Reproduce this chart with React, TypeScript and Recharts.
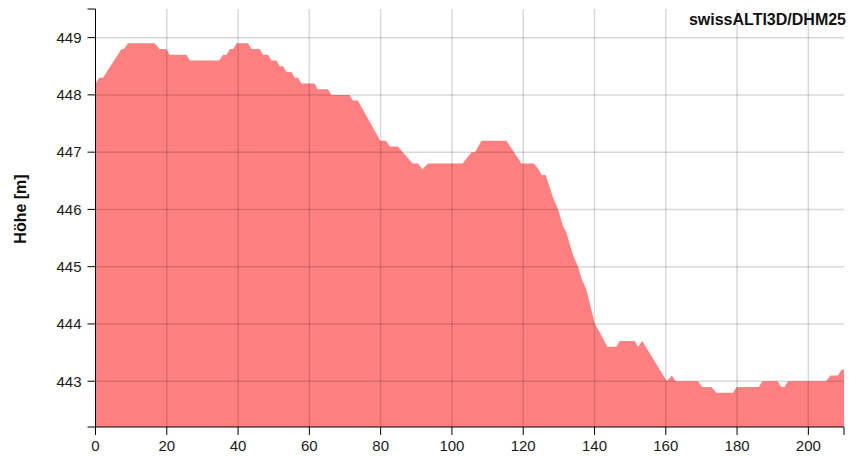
import { AreaChart, Area, XAxis, YAxis, ReferenceLine } from 'recharts'

// profile points (distance in m, height in m)
const dist = [
  0, 1.0, 2.1, 7.3, 8.0, 9.1, 16.6, 18.0, 19.9, 20.8, 25.5, 26.5, 34.7, 35.8, 36.8, 37.7, 38.6, 39.6,
  42.8, 43.8, 46.1, 47.0, 48.4, 49.4, 50.8, 51.7, 52.6, 53.6, 55.0, 55.9, 56.8, 57.8, 61.5, 62.3,
  65.2, 66.2, 71.3, 72.2, 73.6, 79.9, 81.5, 82.6, 84.8, 89.0, 90.5, 91.7, 93.3, 103.0, 105.5, 106.5,
  108.3, 115.3, 119.5, 123.0, 124.3, 125.2, 126.3, 128.4, 129.8, 131.2, 132.1, 133.0, 134.0, 135.4,
  136.3, 137.7, 139.1, 140.1, 141.5, 143.6, 146.1, 147.1, 151.3, 152.2, 153.4, 160.3, 161.7, 162.8,
  169.0, 170.3, 172.8, 174.2, 178.8, 179.9, 186.1, 187.1, 191.4, 192.4, 193.3, 194.3, 205.0, 206.2,
  208.3, 209.3, 210,
]
const elev = [
  448.2, 448.3, 448.3, 448.8, 448.8, 448.9, 448.9, 448.8, 448.8, 448.7, 448.7, 448.6, 448.6, 448.7, 448.7, 448.8, 448.8, 448.9,
  448.9, 448.8, 448.8, 448.7, 448.7, 448.6, 448.6, 448.5, 448.5, 448.4, 448.4, 448.3, 448.3, 448.2, 448.2, 448.1,
  448.1, 448.0, 448.0, 447.9, 447.9, 447.2, 447.2, 447.1, 447.1, 446.8, 446.8, 446.7, 446.8, 446.8, 447.0, 447.0,
  447.2, 447.2, 446.8, 446.8, 446.7, 446.6, 446.6, 446.2, 446.0, 445.7, 445.6, 445.4, 445.2, 445.0,
  444.8, 444.6, 444.25, 444.0, 443.85, 443.6, 443.6, 443.7, 443.7, 443.6, 443.7, 443.0, 443.1, 443.0,
  443.0, 442.9, 442.9, 442.8, 442.8, 442.9, 442.9, 443.0, 443.0, 442.9, 442.9, 443.0, 443.0, 443.1,
  443.1, 443.2, 443.2,
]

const xTicks = [0, 20, 40, 60, 80, 100, 120, 140, 160, 180, 200, 210]
const yTicks = [442.2, 443, 444, 445, 446, 447, 448, 449, 449.5]
const gridX = [20, 40, 60, 80, 100, 120, 140, 160, 180, 200]
const gridY = [443, 444, 445, 446, 447, 448, 449]

const data = dist.map((d, i) => ({ d, h: elev[i] }))

const font = '"Liberation Sans", Arial, sans-serif'
const tickStyle = { fontSize: 15, fill: '#1a1a1a', fontFamily: font }

export default function App() {
  return (
    <div style={{ position: 'absolute', left: 0, top: 0, background: '#fff' }}>
      <AreaChart width={856} height={456} data={data}
        margin={{ top: 9, right: 12, bottom: 0, left: 0 }}>
        <XAxis dataKey="d" type="number" domain={[0, 210]} ticks={xTicks}
          interval={0} height={29} tickSize={8} tickMargin={5}
          stroke="#000" tick={tickStyle}
          tickFormatter={(v: number) => (v === 210 ? '' : String(v))} />
        <YAxis type="number" domain={[442.2, 449.5]} ticks={yTicks}
          interval={0} width={95.5} tickSize={8} tickMargin={6}
          stroke="#000" tick={tickStyle}
          tickFormatter={(v: number) => (Number.isInteger(v) ? String(v) : '')} />
        <Area type="linear" dataKey="h" fill="#ff8080" fillOpacity={1}
          stroke="none" isAnimationActive={false} />
        {gridX.map(v => (
          <ReferenceLine key={'x' + v} x={v} stroke="#000" strokeOpacity={0.15} strokeWidth={1.5} />
        ))}
        {gridY.map(v => (
          <ReferenceLine key={'y' + v} y={v} stroke="#000" strokeOpacity={0.15} strokeWidth={1.5} />
        ))}
        <text x={846} y={25} textAnchor="end" fontFamily={font}
          fontSize={16} fontWeight="bold" fill="#111">
          swissALTI3D/DHM25
        </text>
        <text x={26} y={209} transform="rotate(-90 26 209)" textAnchor="middle"
          fontFamily={font} fontSize={16} fontWeight="bold" fill="#111">
          Höhe [m]
        </text>
      </AreaChart>
    </div>
  )
}
